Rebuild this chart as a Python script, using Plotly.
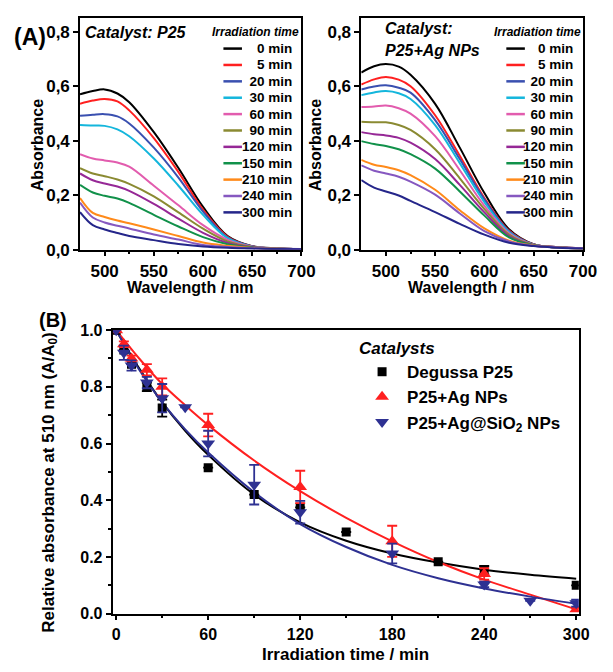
import plotly.graph_objects as go

W, H = 613, 672
FONT = "Liberation Sans, Arial, sans-serif"

# ---------------- data: panel A ----------------
wavelength = [475, 488, 500, 513, 525, 550, 575, 600, 625, 650, 675, 700]
times = ["0 min", "5 min", "20 min", "30 min", "60 min", "90 min",
         "120 min", "150 min", "210 min", "240 min", "300 min"]
time_labels = ["\u2007\u20070 min", "\u2007\u20075 min", "\u200720 min", "\u200730 min",
               "\u200760 min", "\u200790 min", "120 min", "150 min", "210 min",
               "240 min", "300 min"]
colors = ["#000000", "#ff2020", "#3a50b0", "#14b6dc", "#e25cae", "#8a8a32",
          "#962896", "#11914a", "#ff8a1a", "#8658c0", "#25268a"]

p25_0 = [0.571, 0.583, 0.589, 0.574, 0.542, 0.432, 0.300, 0.157, 0.050, 0.013, 0.005, 0.002]
p25_5 = [0.536, 0.548, 0.554, 0.545, 0.512, 0.410, 0.285, 0.147, 0.047, 0.012, 0.004, 0.002]
p25_20 = [0.492, 0.496, 0.498, 0.490, 0.464, 0.375, 0.265, 0.140, 0.044, 0.012, 0.004, 0.002]
p25_30 = [0.458, 0.456, 0.455, 0.442, 0.417, 0.335, 0.235, 0.128, 0.042, 0.011, 0.004, 0.002]
p25_60 = [0.351, 0.335, 0.328, 0.320, 0.305, 0.235, 0.163, 0.090, 0.036, 0.011, 0.004, 0.002]
p25_90 = [0.300, 0.280, 0.270, 0.258, 0.242, 0.196, 0.137, 0.077, 0.030, 0.010, 0.004, 0.002]
p25_120 = [0.280, 0.255, 0.243, 0.232, 0.216, 0.168, 0.114, 0.062, 0.025, 0.009, 0.003, 0.002]
p25_150 = [0.238, 0.210, 0.198, 0.188, 0.172, 0.128, 0.085, 0.046, 0.020, 0.008, 0.003, 0.002]
p25_210 = [0.190, 0.135, 0.120, 0.107, 0.097, 0.074, 0.050, 0.026, 0.014, 0.006, 0.003, 0.002]
p25_240 = [0.173, 0.118, 0.100, 0.088, 0.078, 0.056, 0.037, 0.017, 0.010, 0.005, 0.003, 0.002]
p25_300 = [0.138, 0.090, 0.074, 0.061, 0.050, 0.035, 0.021, 0.012, 0.007, 0.004, 0.002, 0.001]

ag_0 = [0.651, 0.674, 0.682, 0.673, 0.643, 0.536, 0.375, 0.208, 0.075, 0.020, 0.009, 0.005]
ag_5 = [0.607, 0.626, 0.635, 0.625, 0.601, 0.494, 0.345, 0.190, 0.070, 0.019, 0.009, 0.005]
ag_20 = [0.589, 0.600, 0.604, 0.595, 0.577, 0.476, 0.333, 0.185, 0.068, 0.019, 0.009, 0.005]
ag_30 = [0.568, 0.578, 0.583, 0.575, 0.554, 0.458, 0.318, 0.175, 0.065, 0.018, 0.008, 0.005]
ag_60 = [0.524, 0.526, 0.530, 0.520, 0.500, 0.417, 0.292, 0.161, 0.060, 0.018, 0.008, 0.005]
ag_90 = [0.470, 0.468, 0.468, 0.458, 0.440, 0.369, 0.262, 0.149, 0.055, 0.017, 0.008, 0.005]
ag_120 = [0.432, 0.424, 0.420, 0.411, 0.393, 0.333, 0.238, 0.137, 0.050, 0.016, 0.008, 0.005]
ag_150 = [0.399, 0.388, 0.381, 0.369, 0.351, 0.298, 0.214, 0.125, 0.045, 0.016, 0.008, 0.005]
ag_210 = [0.330, 0.312, 0.304, 0.292, 0.274, 0.220, 0.145, 0.078, 0.033, 0.015, 0.008, 0.005]
ag_240 = [0.310, 0.290, 0.280, 0.268, 0.250, 0.202, 0.133, 0.068, 0.030, 0.014, 0.008, 0.005]
ag_300 = [0.256, 0.228, 0.214, 0.199, 0.179, 0.138, 0.095, 0.055, 0.025, 0.013, 0.007, 0.004]

p25_spectra = [p25_0, p25_5, p25_20, p25_30, p25_60, p25_90, p25_120, p25_150, p25_210, p25_240, p25_300]
ag_spectra = [ag_0, ag_5, ag_20, ag_30, ag_60, ag_90, ag_120, ag_150, ag_210, ag_240, ag_300]

# ---------------- data: panel B ----------------
t_p25 = [0, 5, 10, 20, 30, 60, 90, 120, 150, 210, 240, 300]
rel_p25 = [1.0, 0.93, 0.88, 0.80, 0.725, 0.515, 0.42, 0.375, 0.288, 0.183, 0.153, 0.10]
err_p25 = [0, 0, 0, 0.015, 0.03, 0, 0, 0, 0, 0, 0.015, 0]

t_ag = [0, 5, 10, 20, 30, 60, 120, 180, 240, 300]
rel_ag = [1.0, 0.95, 0.90, 0.86, 0.80, 0.665, 0.447, 0.255, 0.14, 0.015]
err_ag = [0, 0.01, 0.01, 0.02, 0.03, 0.04, 0.057, 0.055, 0.02, 0.005]

t_sio2 = [0, 5, 10, 20, 30, 45, 60, 90, 120, 180, 240, 270, 300]
rel_sio2 = [1.0, 0.92, 0.875, 0.815, 0.76, 0.728, 0.60, 0.455, 0.358, 0.212, 0.103, 0.045, 0.037]
err_sio2 = [0, 0.025, 0.018, 0.02, 0.05, 0, 0.045, 0.07, 0.04, 0.035, 0.01, 0, 0.012]

t_fit = [0, 15, 30, 45, 60, 90, 120, 150, 180, 210, 240, 270, 300]
fit_p25 = [1.0, 0.865, 0.745, 0.645, 0.56, 0.42, 0.322, 0.257, 0.212, 0.18, 0.155, 0.137, 0.123]
fit_ag = [1.0, 0.90, 0.81, 0.735, 0.665, 0.54, 0.432, 0.338, 0.255, 0.182, 0.12, 0.067, 0.015]
fit_sio2 = [1.0, 0.86, 0.745, 0.65, 0.568, 0.428, 0.316, 0.235, 0.172, 0.125, 0.089, 0.06, 0.035]

abs_ticks = [0, 0.2, 0.4, 0.6, 0.8]
abs_ticktext = ["0,0", "0,2", "0,4", "0,6", "0,8"]
wl_ticks = [500, 550, 600, 650, 700]

catalysts = ["Degussa P25", "P25+Ag NPs", "P25+Ag@SiO<sub>2</sub> NPs"]
cat_colors = ["#000000", "#ff2020", "#2e3192"]


def px(x):
    return x / W


def py(y):
    return 1 - y / H


fig = go.Figure()

# spectra
for spectra, xa, ya in [(p25_spectra, "x", "y"), (ag_spectra, "x2", "y2")]:
    for name, vals, col in zip(times, spectra, colors):
        fig.add_trace(go.Scatter(
            x=wavelength, y=vals, mode="lines", name=name, xaxis=xa, yaxis=ya,
            line=dict(color=col, width=2, shape="spline", smoothing=1.0),
            showlegend=False, hoverinfo="skip"))

# fits
for tt, ff, col in [(t_fit, fit_p25, cat_colors[0]), (t_fit, fit_ag, cat_colors[1]),
                    (t_fit, fit_sio2, cat_colors[2])]:
    fig.add_trace(go.Scatter(x=tt, y=ff, mode="lines", xaxis="x3", yaxis="y3",
                             line=dict(color=col, width=2, shape="spline"),
                             showlegend=False, hoverinfo="skip"))

# data points
for name, tt, rr, ee, col, sym, size in [
        (catalysts[0], t_p25, rel_p25, err_p25, cat_colors[0], "square", 9),
        (catalysts[1], t_ag, rel_ag, err_ag, cat_colors[1], "triangle-up", 12),
        (catalysts[2], t_sio2, rel_sio2, err_sio2, cat_colors[2], "triangle-down", 12)]:
    fig.add_trace(go.Scatter(
        x=tt, y=rr, mode="markers", name=name, xaxis="x3", yaxis="y3",
        marker=dict(symbol=sym, size=size, color=col, line=dict(width=0)),
        error_y=dict(type="data", array=ee, visible=True, color=col, thickness=1.8, width=5)))

axis_common = dict(showline=True, linecolor="black", linewidth=1.6, mirror=True,
                   ticks="outside", ticklen=5, tickwidth=1.5, tickcolor="black",
                   showgrid=False, zeroline=False)

tick_top = dict(family=FONT, size=17, color="black", weight="bold")
tick_bot = dict(family=FONT, size=16, color="black", weight="bold")

top_y = [py(248.3), py(10.7)]
fig.update_layout(
    width=W, height=H, margin=dict(l=0, r=0, t=0, b=0),
    paper_bgcolor="white", plot_bgcolor="white",
    font=dict(family=FONT, color="black"),
    xaxis=dict(domain=[px(81), px(308)], range=[475, 700], tickvals=wl_ticks,
               minor=dict(ticks="outside", ticklen=3, tickwidth=1.5, tickcolor="black",
                          tickvals=[525, 575, 625, 675]),
               tickfont=tick_top, anchor="y", **axis_common),
    yaxis=dict(domain=top_y, range=[0, 0.85], tickvals=abs_ticks, ticktext=abs_ticktext,
               tickfont=tick_top, anchor="x", **axis_common),
    xaxis2=dict(domain=[px(369.3), px(596.5)], range=[475, 700], tickvals=wl_ticks,
                minor=dict(ticks="outside", ticklen=3, tickwidth=1.5, tickcolor="black",
                           tickvals=[525, 575, 625, 675]),
                tickfont=tick_top, anchor="y2", **axis_common),
    yaxis2=dict(domain=top_y, range=[0, 0.85], tickvals=abs_ticks, ticktext=abs_ticktext,
                tickfont=tick_top, anchor="x2", **axis_common),
    xaxis3=dict(domain=[px(114.3), px(592.3)], range=[-2.4, 301.7], tick0=0, dtick=60,
                minor=dict(ticks="outside", ticklen=3, tickwidth=1.5, tickcolor="black", dtick=30),
                tickfont=tick_bot, anchor="y3", **axis_common),
    yaxis3=dict(domain=[py(622.3), py(331)], range=[0, 1.0], tick0=0, dtick=0.2,
                tickformat=".1f",
                minor=dict(ticks="outside", ticklen=3, tickwidth=1.5, tickcolor="black", dtick=0.1),
                tickfont=tick_bot, anchor="x3", **axis_common),
    legend=dict(x=px(365), y=py(333), xanchor="left", yanchor="top",
                bgcolor="rgba(0,0,0,0)", borderwidth=0, itemwidth=40,
                font=dict(family=FONT, size=17, color="black", weight="bold"),
                title=dict(text="Catalysts",
                           font=dict(family=FONT, size=17, color="black",
                                     weight="bold", style="italic"))),
)

ann = []


def add_text(text, x, y, size, xanchor="center", angle=0, italic=False):
    f = dict(family=FONT, size=size, color="black", weight="bold")
    if italic:
        f["style"] = "italic"
    ann.append(dict(text=text, x=px(x), y=py(y), xref="paper", yref="paper",
                    xanchor=xanchor, yanchor="middle", showarrow=False,
                    textangle=angle, font=f))


add_text("(A)", 30, 30, 23)
add_text("(B)", 53, 321, 20)
add_text("Absorbance", 37, 141, 16, angle=-90)
add_text("Absorbance", 322, 141, 16, angle=-90)
add_text("Wavelength / nm", 194.5, 287, 16)
add_text("Wavelength / nm", 482.7, 287, 16)
add_text("Relative absorbance at 510 nm (A/A<sub>0</sub>)", 50, 488, 17, angle=-90)
add_text("Irradiation time / min", 353, 664, 17)
add_text("Catalyst: P25", 84, 25, 16, xanchor="left", italic=True)
add_text("Catalyst:", 392, 21, 16, xanchor="left", italic=True)
add_text("P25+Ag NPs", 392, 44, 16, xanchor="left", italic=True)
add_text("Irradiation time", 261, 25, 12, italic=True)
add_text("Irradiation time", 550, 25, 12, italic=True)

shapes = []
row_y = [41.7 + i * 16.83 for i in range(len(times))]
for lab, col, ry in zip(time_labels, colors, row_y):
    for x0, x1, xt in [(228, 247, 300.5), (518, 537, 588.5)]:
        shapes.append(dict(type="line", xref="paper", yref="paper",
                           x0=px(x0), x1=px(x1), y0=py(ry), y1=py(ry),
                           line=dict(color=col, width=2.5)))
        add_text(lab, xt, ry, 13.5, xanchor="right")

fig.update_layout(annotations=ann, shapes=shapes)
fig.write_html("out.html", config={"displayModeBar": False})

# remove the browser's default body margin so the figure sits at (0, 0)
with open("out.html", "r", encoding="utf-8") as fh:
    html = fh.read()
html = html.replace("<body>", '<body style="margin:0;padding:0;">', 1)
with open("out.html", "w", encoding="utf-8") as fh:
    fh.write(html)
